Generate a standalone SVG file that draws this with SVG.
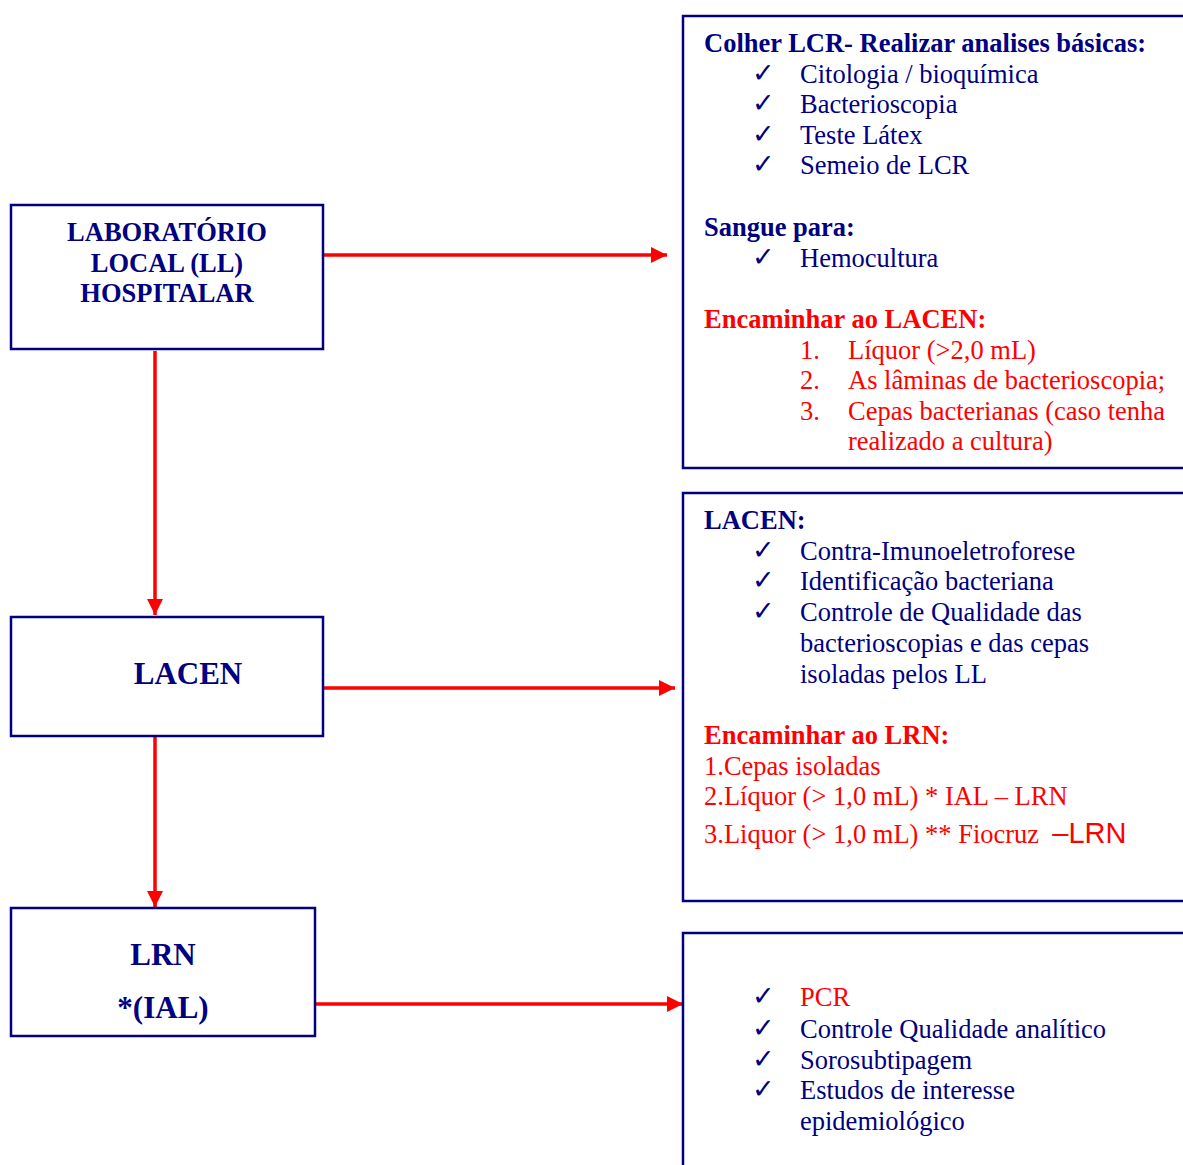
<svg xmlns="http://www.w3.org/2000/svg" width="1183" height="1165" viewBox="0 0 1183 1165">
<defs>
<marker id="ah" viewBox="0 0 16 16" markerWidth="16" markerHeight="16" refX="16" refY="8" orient="auto" markerUnits="userSpaceOnUse">
<path d="M0,0 L16,8 L0,16 z" fill="#ff0000"/>
</marker>
<style>
.box{fill:#fff;stroke:#000080;stroke-width:2.5}
.t{font-family:"Liberation Serif","Times New Roman",serif;font-size:26.5px;fill:#000080}
.b{font-weight:bold}
.r{fill:#ff0000}
.ck{font-family:"DejaVu Sans",sans-serif;font-size:27px;font-weight:bold;fill:#000080}
.lbl{font-family:"Liberation Serif","Times New Roman",serif;font-weight:bold;fill:#000080;text-anchor:middle}
.con{stroke:#ff0000;stroke-width:3.5;fill:none;marker-end:url(#ah)}
</style>
</defs>
<rect width="1183" height="1165" fill="#fff"/>

<g id="connectors">
<line class="con" x1="324" y1="255" x2="667" y2="255"/>
<line class="con" x1="324" y1="688" x2="675" y2="688"/>
<line class="con" x1="316" y1="1004" x2="683" y2="1004"/>
<line class="con" x1="155" y1="351" x2="155" y2="615"/>
<line class="con" x1="155" y1="737" x2="155" y2="907"/>
</g>

<g id="node-ll">
<rect class="box" x="11" y="205" width="312" height="144"/>
<text class="lbl" x="167" y="241" font-size="26.5">LABORATÓRIO</text>
<text class="lbl" x="167" y="272" font-size="26.5">LOCAL (LL)</text>
<text class="lbl" x="167" y="302" font-size="26.5">HOSPITALAR</text>
</g>

<g id="node-lacen">
<rect class="box" x="11" y="617" width="312" height="119"/>
<text class="lbl" x="188" y="684" font-size="31">LACEN</text>
</g>

<g id="node-lrn">
<rect class="box" x="11" y="908" width="304" height="128"/>
<text class="lbl" x="163" y="965" font-size="31">LRN</text>
<text class="lbl" x="163" y="1018" font-size="31">*(IAL)</text>
</g>

<g id="node-ll-tasks">
<rect class="box" x="683" y="16" width="520" height="452"/>
<text class="t b" x="704" y="52">Colher LCR- Realizar analises básicas:</text>
<text class="ck" x="752" y="82">✓</text><text class="t" x="800" y="83">Citologia / bioquímica</text>
<text class="ck" x="752" y="112">✓</text><text class="t" x="800" y="113">Bacterioscopia</text>
<text class="ck" x="752" y="143">✓</text><text class="t" x="800" y="144">Teste Látex</text>
<text class="ck" x="752" y="173">✓</text><text class="t" x="800" y="174">Semeio de LCR</text>
<text class="t b" x="704" y="236">Sangue para:</text>
<text class="ck" x="752" y="266">✓</text><text class="t" x="800" y="267">Hemocultura</text>
<text class="t b r" x="704" y="328">Encaminhar ao LACEN:</text>
<text class="t r" x="800" y="359">1.</text><text class="t r" x="848" y="359">Líquor (&gt;2,0 mL)</text>
<text class="t r" x="800" y="389">2.</text><text class="t r" x="848" y="389">As lâminas de bacterioscopia;</text>
<text class="t r" x="800" y="420">3.</text><text class="t r" x="848" y="420">Cepas bacterianas (caso tenha</text>
<text class="t r" x="848" y="450">realizado a cultura)</text>
</g>

<g id="node-lacen-tasks">
<rect class="box" x="683" y="493" width="520" height="408"/>
<text class="t b" x="704" y="529">LACEN:</text>
<text class="ck" x="752" y="559">✓</text><text class="t" x="800" y="560">Contra-Imunoeletroforese</text>
<text class="ck" x="752" y="589">✓</text><text class="t" x="800" y="590">Identificação bacteriana</text>
<text class="ck" x="752" y="620">✓</text><text class="t" x="800" y="621">Controle de Qualidade das</text>
<text class="t" x="800" y="652">bacterioscopias e das cepas</text>
<text class="t" x="800" y="683">isoladas pelos LL</text>
<text class="t b r" x="704" y="744">Encaminhar ao LRN:</text>
<text class="t r" x="704" y="775">1.Cepas isoladas</text>
<text class="t r" x="704" y="805">2.Líquor (&gt; 1,0 mL) * IAL – LRN</text>
<text class="t r" x="704" y="843" xml:space="preserve">3.Liquor (&gt; 1,0 mL) ** Fiocruz  <tspan font-family="'Liberation Sans',Arial,sans-serif" font-size="29">–LRN</tspan></text>
</g>

<g id="node-lrn-tasks">
<rect class="box" x="683" y="933" width="520" height="260"/>
<text class="ck r" x="752" y="1005">✓</text><text class="t r" x="800" y="1006">PCR</text>
<text class="ck" x="752" y="1037">✓</text><text class="t" x="800" y="1038">Controle Qualidade analítico</text>
<text class="ck" x="752" y="1068">✓</text><text class="t" x="800" y="1069">Sorosubtipagem</text>
<text class="ck" x="752" y="1098">✓</text><text class="t" x="800" y="1099">Estudos de interesse</text>
<text class="t" x="800" y="1130">epidemiológico</text>
</g>
</svg>
